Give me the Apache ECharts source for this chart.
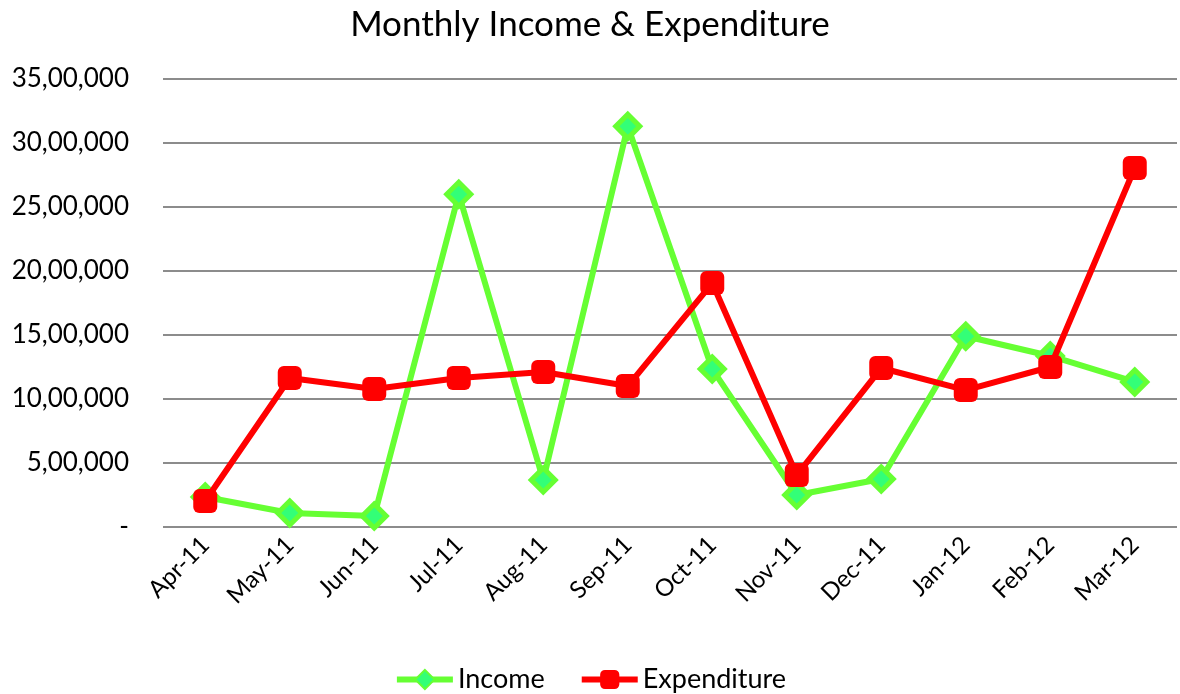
<!DOCTYPE html>
<html>
<head>
    <meta charset="utf-8" />
    <title>Monthly Income & Expenditure</title>
    <script src="https://cdn.jsdelivr.net/npm/echarts@6/dist/echarts.min.js"></script>
    <style>
        html, body { margin: 0; padding: 0; background: #fff; }
        #main { width: 1180px; height: 694px; }
    </style>
</head>
<body>
    <div id="main"></div>
    <script type="text/javascript">
        var months = ['Apr-11', 'May-11', 'Jun-11', 'Jul-11', 'Aug-11', 'Sep-11',
                      'Oct-11', 'Nov-11', 'Dec-11', 'Jan-12', 'Feb-12', 'Mar-12'];
        var income = [234000, 109000, 86000, 2600000, 367000, 3130000,
                      1234000, 250000, 375000, 1490000, 1336000, 1133000];
        var expenditure = [203000, 1164000, 1078000, 1164000, 1211000, 1101000,
                           1906000, 406000, 1242000, 1070000, 1250000, 2805000];

        // indian style grouping: 35,00,000
        function fmtIndian(v) {
            if (v === 0) return '-';
            var s = String(Math.round(v));
            var last3 = s.slice(-3);
            var rest = s.slice(0, -3);
            if (rest) {
                rest = rest.replace(/\B(?=(\d{2})+(?!\d))/g, ',');
                return rest + ',' + last3;
            }
            return last3;
        }

        var font = 'Lato, "Open Sans", sans-serif';
        var myChart = echarts.init(document.getElementById('main'));
        var option = {
            backgroundColor: '#fff',
            animation: false,
            title: {
                text: 'Monthly Income & Expenditure',
                left: 'center',
                top: 2,
                textStyle: { color: '#000', fontSize: 35, fontWeight: 'normal', fontFamily: font }
            },
            legend: {
                bottom: -4,
                left: 'center',
                itemWidth: 56,
                itemHeight: 24,
                itemGap: 34,
                lineStyle: { width: 6 },
                textStyle: { color: '#000', fontSize: 27, fontFamily: font },
                data: ['Income', 'Expenditure']
            },
            grid: {
                left: 163,
                right: 3,
                top: 79,
                bottom: 167
            },
            xAxis: {
                type: 'category',
                data: months,
                boundaryGap: true,
                axisLine: { show: false },
                axisTick: { show: false },
                axisLabel: {
                    rotate: 45,
                    color: '#000',
                    fontSize: 24,
                    fontFamily: font,
                    margin: 14,
                    interval: 0
                }
            },
            yAxis: {
                type: 'value',
                min: 0,
                max: 3500000,
                interval: 500000,
                axisLine: { show: false },
                axisTick: { show: false },
                splitLine: { lineStyle: { color: '#8c8c8c', width: 2 } },
                axisLabel: {
                    color: '#000',
                    fontSize: 26,
                    fontFamily: font,
                    margin: 34,
                    formatter: fmtIndian
                }
            },
            series: [
                {
                    name: 'Income',
                    type: 'line',
                    data: income,
                    symbol: 'diamond',
                    symbolSize: 24,
                    showAllSymbol: true,
                    z: 2,
                    lineStyle: { color: '#66ff33', width: 6 },
                    itemStyle: { color: '#33ff77', borderColor: '#66ff33', borderWidth: 5 }
                },
                {
                    name: 'Expenditure',
                    type: 'line',
                    data: expenditure,
                    symbol: 'roundRect',
                    symbolSize: 24,
                    showAllSymbol: true,
                    z: 3,
                    lineStyle: { color: '#ff0000', width: 6 },
                    itemStyle: { color: '#ff0000', borderColor: '#ff0000', borderWidth: 0 }
                }
            ]
        };
        myChart.setOption(option);
    </script>
</body>
</html>
